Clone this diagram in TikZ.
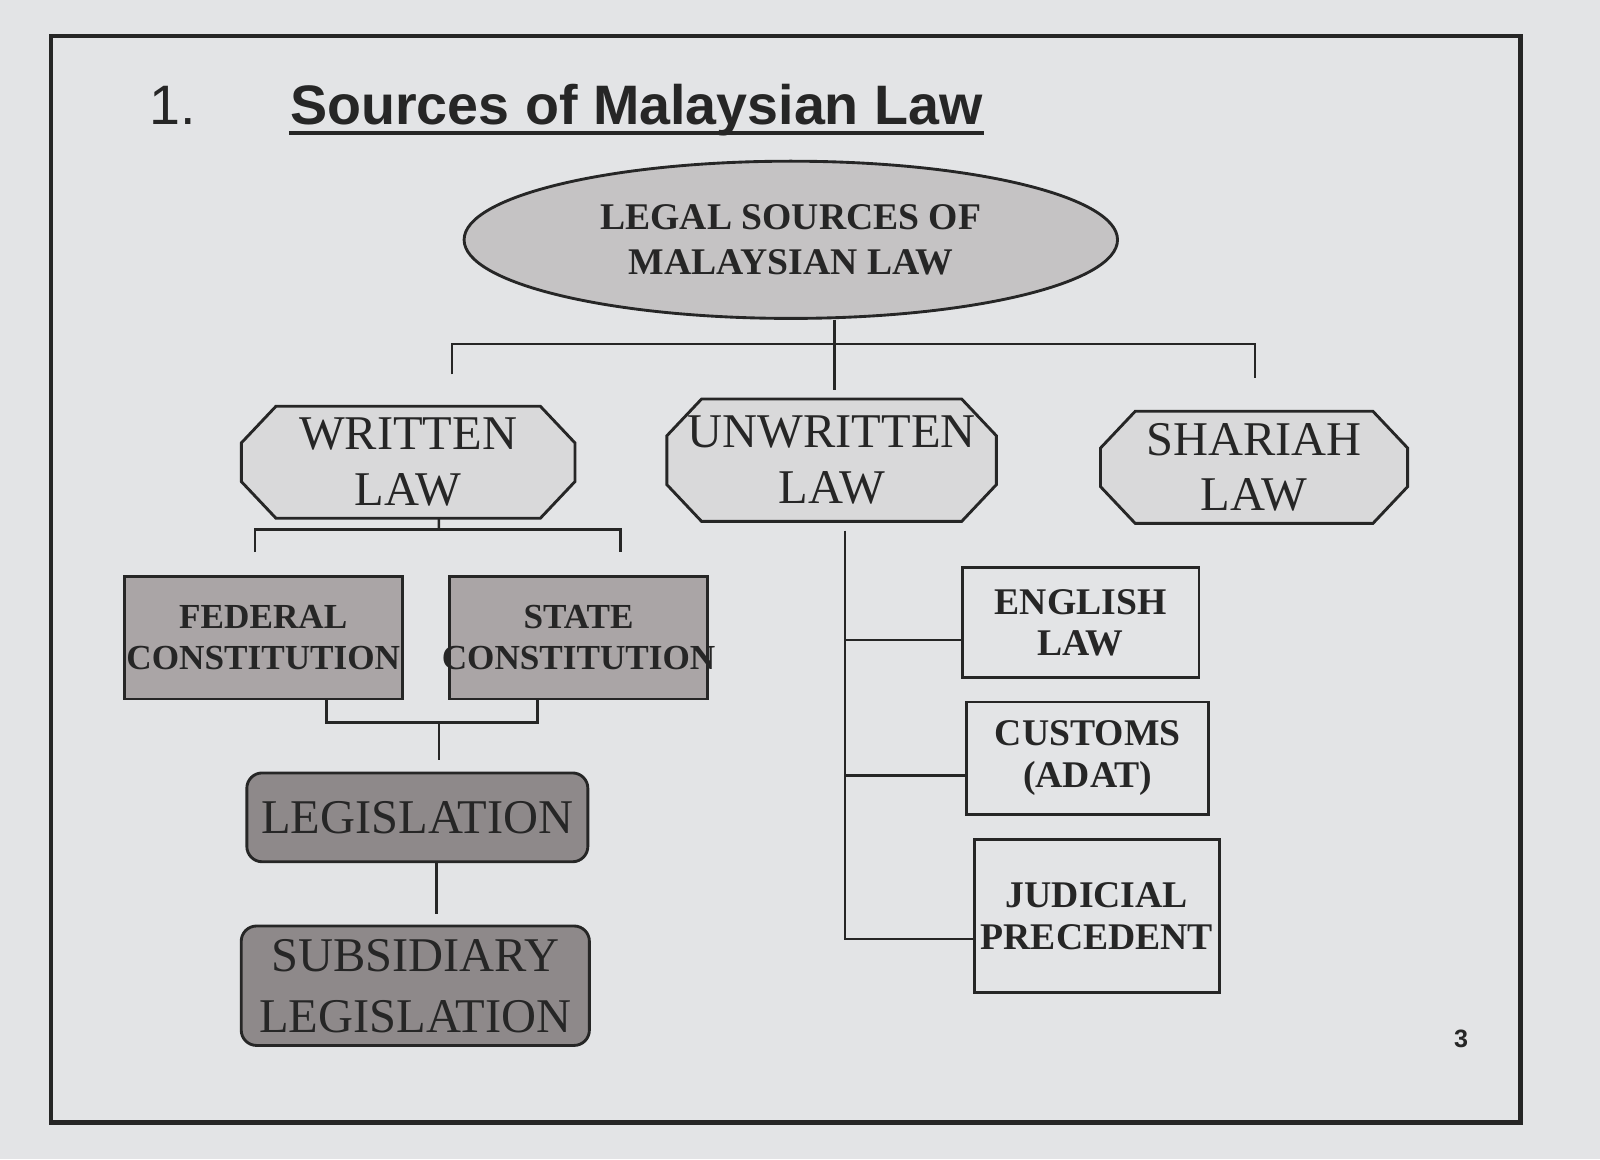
\documentclass[tikz,border=0pt]{standalone}
\usepackage{fontspec}
\setmainfont{Liberation Serif}
\newfontfamily\headfont{Liberation Sans}
\usetikzlibrary{shapes.geometric, backgrounds}
\definecolor{paper}{HTML}{E3E4E6}
\definecolor{ink}{HTML}{262626}
\definecolor{ovalgray}{HTML}{C5C3C4}
\definecolor{lawgray}{HTML}{D9D9DA}
\definecolor{constgray}{HTML}{AAA5A6}
\definecolor{legisgray}{HTML}{8E898A}
\tikzstyle{oval} = [ellipse, minimum width=6.4cm, minimum height=1.54cm, inner sep=0pt, draw=ink, fill=ovalgray, text=ink, align=center, font=\fontsize{10.5}{12.5}\selectfont\bfseries]
\tikzstyle{lawbox} = [rectangle, minimum height=1.07cm, inner sep=0pt, text=ink, align=center, font=\fontsize{13.5}{15.5}\selectfont]
\tikzstyle{octagon} = [draw=ink, line width=0.8pt, fill=lawgray]
\tikzstyle{constbox} = [rectangle, minimum height=1.2cm, inner xsep=-0.2cm, draw=ink, fill=constgray, text=ink, align=center, font=\fontsize{9.8}{11.5}\selectfont\bfseries]
\tikzstyle{legisbox} = [rectangle, rounded corners=0.15cm, minimum width=3.34cm, inner sep=0pt, draw=ink, fill=legisgray, text=ink, align=center, font=\fontsize{13.5}{17}\selectfont]
\tikzstyle{sourcebox} = [rectangle, minimum width=2.32cm, inner xsep=0pt, draw=ink, fill=paper, text=ink, align=center, font=\fontsize{10.5}{11.5}\selectfont\bfseries]
\tikzstyle{heading} = [inner sep=0pt, text=ink, font=\fontsize{15.5}{18}\headfont]
\tikzstyle{line} = [draw=ink, line width=0.7pt]

\begin{document}
\begin{tikzpicture}[x=0.01cm, y=-0.01cm, thick]
\useasboundingbox (0,0) rectangle (1568,1136);

% heading
\node (num) [heading, anchor=base west] at (145,122) {1.};
\node (title) [heading, anchor=base west, font=\fontsize{15.5}{18}\headfont\bfseries] at (283,122) {Sources of Malaysian Law};
\draw[ink, line width=1.2pt] ([yshift=-0.8mm]title.base west) -- ([yshift=-0.8mm]title.base east);

% nodes
\node (legal) [oval] at (775,235) {LEGAL SOURCES OF\\MALAYSIAN LAW};
\node (written) [lawbox, minimum width=3.24cm] at (400,453) {WRITTEN\\LAW};
\node (unwritten) [lawbox, minimum width=3.2cm, minimum height=1.17cm] at (815,451) {UNWRITTEN\\LAW};
\node (shariah) [lawbox, minimum width=2.98cm] at (1229,458) {SHARIAH\\LAW};
\node (federal) [constbox, minimum width=2.72cm] at (258,625) {FEDERAL\\CONSTITUTION};
\node (state) [constbox, minimum width=2.53cm] at (567,625) {STATE\\CONSTITUTION};
\node (legis) [legisbox, minimum height=0.87cm] at (409,801) {LEGISLATION};
\node (subsid) [legisbox, minimum height=1.17cm, minimum width=3.41cm] at (407,966) {SUBSIDIARY\\LEGISLATION};
\node (english) [sourcebox, minimum height=1.07cm] at (1059,610) {ENGLISH\\LAW};
\node (customs) [sourcebox, minimum height=1.1cm, minimum width=2.37cm] at (1066,743) {CUSTOMS\\(ADAT)};
\node (judicial) [sourcebox, minimum height=1.5cm, minimum width=2.4cm] at (1075,898) {JUDICIAL\\PRECEDENT};
\node (page) [text=ink, font=\fontsize{7}{8}\headfont\bfseries] at (1432,1018) {3};

% paper, frame and octagons behind the text
\begin{pgfonlayer}{background}
\fill[paper] (0,0) rectangle (1568,1136);
\draw[ink, line width=1.2pt] (50,35) rectangle (1490,1100);
\foreach \n in {written, unwritten, shariah}
  \draw[octagon] ([xshift=3.4mm]\n.north west) -- ([xshift=-3.4mm]\n.north east)
    -- ([yshift=-3.6mm]\n.north east) -- ([yshift=3.6mm]\n.south east)
    -- ([xshift=-3.4mm]\n.south east) -- ([xshift=3.4mm]\n.south west)
    -- ([yshift=3.6mm]\n.south west) -- ([yshift=-3.6mm]\n.north west) -- cycle;
\end{pgfonlayer}

% top level
\coordinate (bus) at (818,337);
\coordinate (busL) at (443,367);
\coordinate (busR) at (1230,370);
\draw [line] ([xshift=4.3mm]legal.south) -- ++(0,69);
\draw [line] (busL) |- (bus) -| (busR);

% written law
\coordinate (wjoin) at (430,519);
\coordinate (fedtip) at (250,541);
\coordinate (sttip) at (608,541);
\draw [line] ([xshift=3mm]written.south) -- (wjoin);
\draw [line] (fedtip) |- (wjoin) -| (sttip);
\coordinate (cjoin) at (430,708);
\draw [line] ([xshift=6.2mm]federal.south) |- (cjoin) -| ([xshift=-4mm]state.south);
\draw [line] (cjoin) -- ++(0,37);
\draw [line] ([xshift=1.9mm]legis.south) -- ++(0,50);

% unwritten law
\coordinate (spine) at (828,520);
\coordinate (eng) at ([yshift=-1.7mm]english.west);
\coordinate (cus) at ([yshift=-1.7mm]customs.west);
\coordinate (jud) at ([yshift=-2.2mm]judicial.west);
\draw [line] (spine) |- (jud);
\draw [line] (eng) -- (spine |- eng);
\draw [line] (cus) -- (spine |- cus);
\end{tikzpicture}
\end{document}
